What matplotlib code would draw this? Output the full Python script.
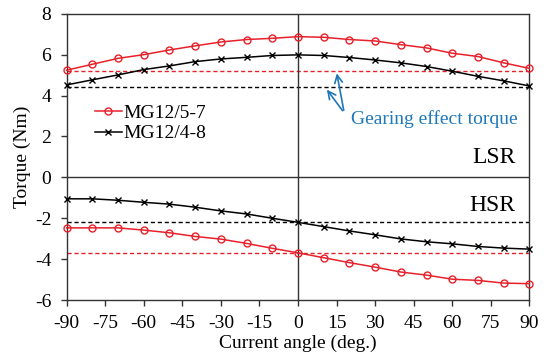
import numpy as np
import matplotlib
matplotlib.use("Agg")
import matplotlib.pyplot as plt
matplotlib.rcParams['font.family'] = ['Liberation Serif', 'DejaVu Serif']
matplotlib.rcParams['axes.unicode_minus'] = False
matplotlib.rc('font', size=14)

angle = np.arange(-90, 91, 10)

# low speed rotor torque
lsr_57 = [5.24, 5.53, 5.82, 6.00, 6.23, 6.43, 6.62, 6.74, 6.80, 6.88,
          6.85, 6.74, 6.67, 6.49, 6.33, 6.07, 5.91, 5.60, 5.33]
lsr_48 = [4.52, 4.77, 5.01, 5.27, 5.45, 5.66, 5.79, 5.87, 5.96, 5.99,
          5.96, 5.86, 5.74, 5.60, 5.42, 5.19, 4.94, 4.72, 4.47]
# high speed rotor torque
hsr_57 = [-2.47, -2.47, -2.47, -2.58, -2.71, -2.89, -3.02, -3.23, -3.47, -3.69,
          -3.93, -4.17, -4.39, -4.63, -4.78, -4.98, -5.04, -5.17, -5.20]
hsr_48 = [-1.05, -1.05, -1.12, -1.22, -1.31, -1.46, -1.64, -1.79, -2.00, -2.20,
          -2.41, -2.62, -2.81, -3.01, -3.15, -3.25, -3.38, -3.46, -3.51]

# gearing effect torque levels
gear_57 = [5.22, -3.71]
gear_48 = [4.40, -2.20]

red = '#e8202a'
blue = '#1f78b8'

fig = plt.figure(figsize=(5.46, 3.53), dpi=100)
ax = fig.add_axes([0.122, 0.150, 0.8475, 0.811])

for g in gear_57:
    ax.axhline(g, color=red, linestyle=(0, (3, 2)), linewidth=1.0)
for g in gear_48:
    ax.axhline(g, color='black', linestyle=(0, (3, 2)), linewidth=1.0)
ax.axhline(0, color='#333333', linewidth=1.0)
ax.axvline(0, color='#333333', linewidth=1.0)

ax.plot(angle, lsr_57, color=red, marker='o', markersize=5, mfc='none',
        mew=1.0, linewidth=1.1, label='MG12/5-7', clip_on=False, zorder=3)
ax.plot(angle, lsr_48, color='black', marker='x', markersize=5,
        mew=1.0, linewidth=1.1, label='MG12/4-8', clip_on=False, zorder=3)
ax.plot(angle, hsr_57, color=red, marker='o', markersize=5, mfc='none',
        mew=1.0, linewidth=1.1, clip_on=False, zorder=3)
ax.plot(angle, hsr_48, color='black', marker='x', markersize=5,
        mew=1.0, linewidth=1.1, clip_on=False, zorder=3)

ax.annotate('', xy=(14.9, gear_57[0]), xytext=(18.0, 3.15),
            arrowprops=dict(arrowstyle='->', color=blue, lw=1.2))
ax.annotate('', xy=(10.6, gear_48[0]), xytext=(18.0, 3.15),
            arrowprops=dict(arrowstyle='->', color=blue, lw=1.2))
ax.text(20.5, 2.85, 'Gearing effect torque', color=blue, fontsize=14,
        va='center', ha='left')
ax.text(84.7, 0.95, 'LSR', fontsize=17, va='center', ha='right')
ax.text(84.7, -1.38, 'HSR', fontsize=17, va='center', ha='right')

ax.set_xlim([-90, 90])
ax.set_ylim([-6, 8])
ax.set_xticks(np.arange(-90, 91, 15))
ax.set_yticks(np.arange(-6, 9, 2))
ax.set_xlabel('Current angle (deg.)', labelpad=2)
ax.set_ylabel('Torque (Nm)', labelpad=3)
ax.tick_params(direction='out', length=4, width=1.0, color='#333333')
ax.tick_params(axis='x', pad=7)
ax.tick_params(axis='y', pad=7)
for s in ax.spines.values():
    s.set_color('#333333')
    s.set_linewidth(1.0)

ax.legend(loc='upper left', bbox_to_anchor=(0.062, 0.684), frameon=False,
          fontsize=14, handlelength=1.35, handletextpad=0.1,
          labelspacing=0.15, borderpad=0, borderaxespad=0)

fig.savefig('out.png', dpi=100)
